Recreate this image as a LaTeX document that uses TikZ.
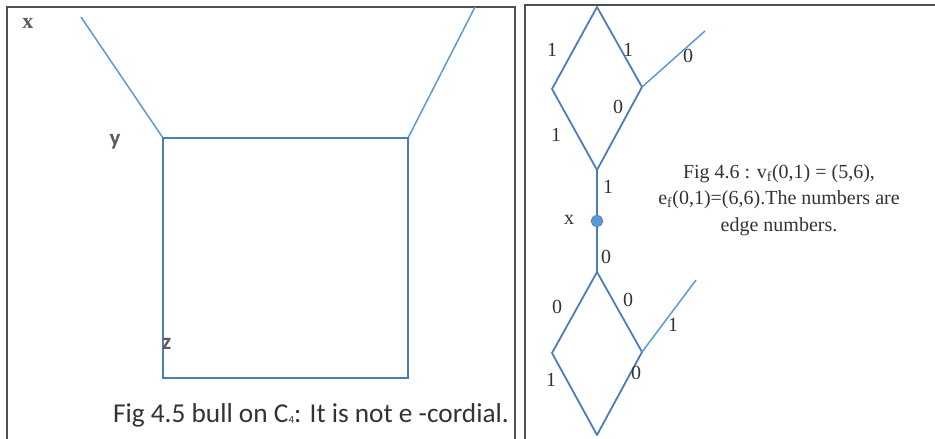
\documentclass[tikz,border=0pt]{standalone}
\usepackage{fontspec}
\usetikzlibrary{shapes.geometric}
\setmainfont{Liberation Serif}
\newfontfamily\calib{Carlito}
\definecolor{lblue}{HTML}{5B9BD5}
\definecolor{dblue}{HTML}{4A7EBB}
\definecolor{frame}{HTML}{505050}
\definecolor{txt}{HTML}{333333}
\begin{document}
\begin{tikzpicture}[x=1pt,y=-1pt,
  leaf/.style={draw=lblue,line width=1.5pt},
  sq/.style={draw=dblue,line width=2.2pt,line join=miter},
  dia/.style={draw=dblue,line width=1.8pt,line join=round},
  elab/.style={font=\fontsize{20}{20}\selectfont,text=txt,inner sep=0pt},
  vlab/.style={font=\calib\bfseries\fontsize{23}{23}\selectfont,text=txt!80,inner sep=0pt},
  fr/.style={draw=frame,line width=1.1pt}]
\useasboundingbox (0,0) rectangle (935,439);
% frames
\draw[fr] (7,445) -- (7,7) -- (515,7) -- (515,445);
\draw[fr] (525,445) -- (525,5) -- (940,5);
% ---------- left panel: bull on C4 ----------
\coordinate (lx) at (81,17);
\coordinate (rx) at (475,7);
\coordinate (y) at (163,138);
\coordinate (yr) at (408,138);
\coordinate (zr) at (408,378);
\coordinate (z) at (163,378);
\draw[leaf] (lx) -- (y);
\draw[leaf] (rx) -- (yr);
\draw[sq] (y) -- (yr) -- (zr) -- (z) -- cycle;
\node[font=\bfseries\fontsize{22}{22}\selectfont,text=txt!80,inner sep=0pt] (labx) at (28,23) {x};
\node[vlab] (laby) at (115,142) {y};
\node[vlab,anchor=west] (labz) at (162,344) {z};
\node[font=\calib\fontsize{27.3}{27}\selectfont,text=txt,anchor=east,inner sep=0pt] (cap1) at (509,415)
  {Fig 4.5 bull on C\raisebox{-0.1ex}{\fontsize{11}{11}\selectfont 4}: It is not e -cordial.};
% ---------- right panel ----------
\coordinate (a1) at (597,7);
\coordinate (a2) at (552,89);
\coordinate (a3) at (642,87);
\coordinate (a4) at (597,170);
\coordinate (p1) at (705,31);
\coordinate (b1) at (597,272);
\coordinate (b2) at (552,353);
\coordinate (b3) at (642,352);
\coordinate (b4) at (597,435);
\coordinate (p2) at (696,280);
\draw[dia] (a1) -- (a3) -- (a4) -- (a2) -- cycle;
\draw[leaf] (a3) -- (p1);
\draw[dia] (b1) -- (b3) -- (b4) -- (b2) -- cycle;
\draw[leaf] (b3) -- (p2);
\draw[dblue,line width=1.6pt] (a4) -- (b1);
\node[ellipse,draw=dblue,fill=lblue,minimum width=12pt,minimum height=11pt,inner sep=0pt,line width=0.6pt] (xv) at (597,221) {};
\node[elab] (l1) at (552,50) {1};
\node[elab] (l2) at (628,50) {1};
\node[elab] (l3) at (688,56) {0};
\node[elab] (l4) at (618,107) {0};
\node[elab] (l5) at (556,135) {1};
\node[elab] (l6) at (608,187) {1};
\node[elab] (l7) at (569,220) {x};
\node[elab] (l8) at (606,257) {0};
\node[elab] (l9) at (557,307) {0};
\node[elab] (l10) at (628,300) {0};
\node[elab] (l11) at (673,325) {1};
\node[elab] (l12) at (551,380) {1};
\node[elab] (l13) at (636,373) {0};
\node[font=\fontsize{20}{26.5}\selectfont,text=txt,align=center,inner sep=0pt] (cap2) at (779,200)
  {Fig 4.6 : v\textsubscript{f}(0,1) = (5,6),\\
   e\textsubscript{f}(0,1)=(6,6).The numbers are\\
   edge numbers.};
\end{tikzpicture}
\end{document}
